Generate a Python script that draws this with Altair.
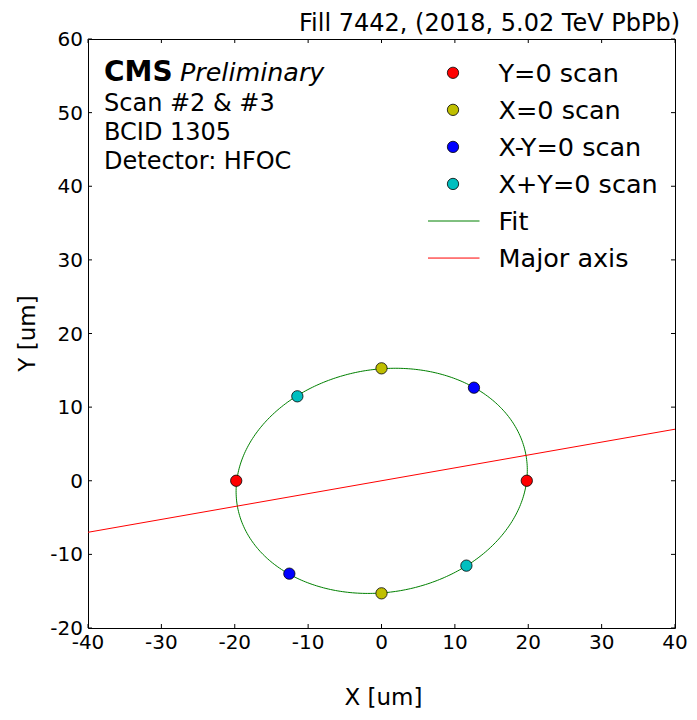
import altair as alt
import numpy as np
import pandas as pd

# ---------------- data ----------------
series_names = ["Y=0 scan", "X=0 scan", "X-Y=0 scan", "X+Y=0 scan"]
series_colors = ["#ff0000", "#bfbf00", "#0000ff", "#00bfbf"]

y0_scan_x = [-19.8, 19.8]
y0_scan_y = [0.0, 0.0]
x0_scan_x = [0.0, 0.0]
x0_scan_y = [15.27, -15.29]
xmy_scan_x = [12.6, -12.56]
xmy_scan_y = [12.64, -12.62]
xpy_scan_x = [-11.47, 11.57]
xpy_scan_y = [11.47, -11.53]

major_axis_x = [-40.0, 40.0]
major_axis_y = [-7.0, 7.0]

x_ticks = [-40, -30, -20, -10, 0, 10, 20, 30, 40]
y_ticks = [-20, -10, 0, 10, 20, 30, 40, 50, 60]
x_title = "X [um]"
y_title = "Y [um]"

title_text = "Fill 7442, (2018, 5.02 TeV PbPb)"
info_lines = ["Scan #2 & #3", "BCID 1305", "Detector: HFOC"]

legend_labels = series_names + ["Fit", "Major axis"]
legend_colors = series_colors + ["#008000", "#ff0000"]
legend_kinds = ["point"] * 4 + ["line"] * 2

# ---------------- tables ----------------
pts = pd.DataFrame({
    "x": y0_scan_x + x0_scan_x + xmy_scan_x + xpy_scan_x,
    "y": y0_scan_y + x0_scan_y + xmy_scan_y + xpy_scan_y,
    "series": [series_names[0]] * 2 + [series_names[1]] * 2
    + [series_names[2]] * 2 + [series_names[3]] * 2,
})

# conic fit through the scan points: A x^2 + B xy + C y^2 + D x + E y = 1
xs = pts["x"].to_numpy()
ys = pts["y"].to_numpy()
M = np.column_stack([xs ** 2, xs * ys, ys ** 2, xs, ys])
A, B, C, D, E = np.linalg.lstsq(M, np.ones(len(xs)), rcond=None)[0]
cx, cy = np.linalg.solve([[2 * A, B], [B, 2 * C]], [-D, -E])
k = 1 - (D * cx + E * cy) / 2.0
evals, evecs = np.linalg.eigh([[A, B / 2], [B / 2, C]])
semi = np.sqrt(k / evals)
t = np.linspace(0, 2 * np.pi, 361)
ex = cx + semi[0] * np.cos(t) * evecs[0, 0] + semi[1] * np.sin(t) * evecs[0, 1]
ey = cy + semi[0] * np.cos(t) * evecs[1, 0] + semi[1] * np.sin(t) * evecs[1, 1]
fit_df = pd.DataFrame({"x": ex, "y": ey, "i": np.arange(len(t))})

major_df = pd.DataFrame({"x": major_axis_x, "y": major_axis_y})
xt_df = pd.DataFrame({"v": x_ticks, "lab": [str(v) for v in x_ticks]})
yt_df = pd.DataFrame({"v": y_ticks, "lab": [str(v) for v in y_ticks]})

W, H = 587, 589
PL = 80   # plot area starts at page x = 8 + PL
FONT = "DejaVu Sans"
TL = 4  # inward tick length


def px(page_x):
    """page x coordinate -> plot-relative pixel"""
    return page_x - 8 - PL


xscale = alt.Scale(domain=[-40, 40], nice=False, zero=False)
yscale = alt.Scale(domain=[-20, 60], nice=False, zero=False)

fit_layer = alt.Chart(fit_df).mark_line(color="#008000", strokeWidth=1).encode(
    x=alt.X("x:Q", scale=xscale, axis=None),
    y=alt.Y("y:Q", scale=yscale, axis=None),
    order="i:Q",
)

major_layer = alt.Chart(major_df).mark_line(color="#ff0000", strokeWidth=1).encode(
    x=alt.X("x:Q", scale=xscale, axis=None),
    y=alt.Y("y:Q", scale=yscale, axis=None),
)

point_layer = alt.Chart(pts).mark_circle(size=128, stroke="black", strokeWidth=0.8,
                                         opacity=1).encode(
    x=alt.X("x:Q", scale=xscale, axis=None),
    y=alt.Y("y:Q", scale=yscale, axis=None),
    color=alt.Color("series:N", scale=alt.Scale(domain=series_names, range=series_colors),
                    legend=None),
)

# inward ticks on all four sides
tick_bottom = alt.Chart(xt_df).mark_rule(color="black", strokeWidth=1).encode(
    x=alt.X("v:Q", scale=xscale, axis=None), y=alt.value(H), y2=alt.value(H - TL))
tick_top = alt.Chart(xt_df).mark_rule(color="black", strokeWidth=1).encode(
    x=alt.X("v:Q", scale=xscale, axis=None), y=alt.value(0), y2=alt.value(TL))
tick_left = alt.Chart(yt_df).mark_rule(color="black", strokeWidth=1).encode(
    y=alt.Y("v:Q", scale=yscale, axis=None), x=alt.value(0), x2=alt.value(TL))
tick_right = alt.Chart(yt_df).mark_rule(color="black", strokeWidth=1).encode(
    y=alt.Y("v:Q", scale=yscale, axis=None), x=alt.value(W), x2=alt.value(W - TL))

# tick labels
xlab = alt.Chart(xt_df).mark_text(align="center", baseline="alphabetic", fontSize=20,
                                  font=FONT, color="black").encode(
    x=alt.X("v:Q", scale=xscale, axis=None), y=alt.value(H + 21), text="lab:N")
ylab = alt.Chart(yt_df).mark_text(align="right", baseline="alphabetic", fontSize=20,
                                  font=FONT, color="black", dy=7).encode(
    y=alt.Y("v:Q", scale=yscale, axis=None), x=alt.value(-5), text="lab:N")

# axis titles
xtitle = alt.Chart(pd.DataFrame({"t": [x_title]})).mark_text(
    align="center", baseline="alphabetic", fontSize=23, font=FONT, color="black").encode(
    x=alt.value(W / 2 + 2), y=alt.value(666), text="t:N")
ytitle = alt.Chart(pd.DataFrame({"t": [y_title]})).mark_text(
    align="center", baseline="alphabetic", fontSize=23, font=FONT, color="black",
    angle=270).encode(
    x=alt.value(px(35)), y=alt.value(H / 2), text="t:N")

layers = [fit_layer, major_layer, point_layer, tick_bottom, tick_top, tick_left,
          tick_right, xlab, ylab, xtitle, ytitle]

# title (top right)
layers.append(alt.Chart(pd.DataFrame({"t": [title_text]})).mark_text(
    align="right", baseline="alphabetic", fontSize=24, font=FONT, color="black").encode(
    x=alt.value(px(680)), y=alt.value(-8), text="t:N"))

# CMS Preliminary block
layers.append(alt.Chart(pd.DataFrame({"t": ["CMS"]})).mark_text(
    align="left", baseline="alphabetic", fontSize=28, fontWeight="bold", font=FONT,
    color="black").encode(x=alt.value(px(104)), y=alt.value(42), text="t:N"))
layers.append(alt.Chart(pd.DataFrame({"t": ["Preliminary"]})).mark_text(
    align="left", baseline="alphabetic", fontSize=25.4, fontStyle="italic", font=FONT,
    color="black").encode(x=alt.value(px(180)), y=alt.value(42), text="t:N"))
for i, line in enumerate(info_lines):
    layers.append(alt.Chart(pd.DataFrame({"t": [line]})).mark_text(
        align="left", baseline="alphabetic", fontSize=24, font=FONT, color="black").encode(
        x=alt.value(px(104)), y=alt.value(72 + 29 * i), text="t:N"))

# legend (manual, no frame)
row0, drow = 33.8, 37.05
for i, (lab, col, kind) in enumerate(zip(legend_labels, legend_colors, legend_kinds)):
    yc = row0 + drow * i
    if kind == "point":
        layers.append(alt.Chart(pd.DataFrame({"t": [lab]})).mark_circle(
            size=128, color=col, stroke="black", strokeWidth=0.8, opacity=1).encode(
            x=alt.value(px(453)), y=alt.value(yc)))
    else:
        layers.append(alt.Chart(pd.DataFrame({"t": [lab]})).mark_rule(
            color=col, strokeWidth=1).encode(
            x=alt.value(px(428)), x2=alt.value(px(479.5)), y=alt.value(yc)))
    layers.append(alt.Chart(pd.DataFrame({"t": [lab]})).mark_text(
        align="left", baseline="alphabetic", fontSize=25.5, font=FONT, color="black").encode(
        x=alt.value(px(498.5)), y=alt.value(yc + 9), text="t:N"))

chart = alt.layer(*layers).properties(
    width=W, height=H,
    autosize=alt.AutoSizeParams(type="none"),
    padding={"left": PL, "top": 31, "right": 681 - PL - W, "bottom": 84},
    background="white",
).configure_view(
    stroke="black", strokeWidth=1
).configure_text(font=FONT)

chart.save("out.html", embed_options={"renderer": "svg", "actions": False})
